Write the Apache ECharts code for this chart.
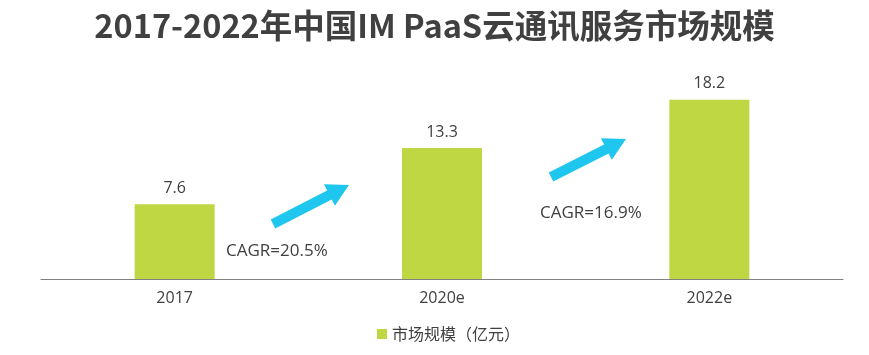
<!DOCTYPE html>
<html><head><meta charset="utf-8">
<script src="https://cdn.jsdelivr.net/npm/echarts@6/dist/echarts.min.js"></script>
<style>html,body{margin:0;padding:0;background:#fff}#c{width:869px;height:355px}</style>
</head><body><div id="c"></div>
<script>
const categories = ['2017', '2020e', '2022e'];
const marketSize = [7.6, 13.3, 18.2];
const cagrLabels = ['CAGR=20.5%', 'CAGR=16.9%'];
const titleText = '2017-2022年中国IM PaaS云通讯服务市场规模';
const seriesName = '市场规模（亿元）';

const chart = echarts.init(document.getElementById('c'));

function arrow(x1, y1, x2, y2, sw, hw, hl) {
  const dx = x2 - x1, dy = y2 - y1, L = Math.hypot(dx, dy);
  const ux = dx / L, uy = dy / L, nx = -uy, ny = ux;
  const bx = x2 - ux * hl, by = y2 - uy * hl;
  return [
    [x1 + nx * sw, y1 + ny * sw],
    [bx + nx * sw, by + ny * sw],
    [bx + nx * hw, by + ny * hw],
    [x2, y2],
    [bx - nx * hw, by - ny * hw],
    [bx - nx * sw, by - ny * sw],
    [x1 - nx * sw, y1 - ny * sw]
  ];
}
const arrowColor = '#1fc6ee';
const txtFont = '"Open Sans","Noto Sans","Noto Sans CJK SC",sans-serif';

chart.setOption({
  animation: false,
  title: {
    text: titleText, left: 'center', top: 4,
    textStyle: { fontSize: 32.5, fontWeight: 'bold', color: '#404040', fontFamily: '"Noto Sans CJK SC","Noto Sans",sans-serif' }
  },
  legend: {
    data: [seriesName], bottom: 8, left: 372, itemWidth: 10, itemHeight: 10, icon: 'rect', itemGap: 6,
    textStyle: { fontSize: 16, color: '#404040', fontFamily: '"Noto Sans CJK SC",sans-serif' }
  },
  grid: { left: 41, right: 26, top: 82, bottom: 76 },
  xAxis: {
    type: 'category', data: categories,
    axisLine: { lineStyle: { color: '#808080', width: 1 } },
    axisTick: { show: false },
    axisLabel: { fontSize: 16, color: '#404040', margin: 11, fontFamily: txtFont }
  },
  yAxis: { type: 'value', min: 0, max: 20, show: false, splitLine: { show: false } },
  series: [{
    name: seriesName, type: 'bar', data: marketSize, barWidth: 80,
    itemStyle: { color: '#bed742' },
    label: { show: true, position: 'top', distance: 8, fontSize: 16, color: '#404040', fontFamily: txtFont }
  }],
  graphic: [
    { type: 'polygon', shape: { points: arrow(273, 224, 349, 185, 5, 12, 22) }, style: { fill: arrowColor } },
    { type: 'polygon', shape: { points: arrow(551, 177, 626, 139, 5, 12, 22) }, style: { fill: arrowColor } },
    { type: 'text', left: 226, top: 243, style: { text: cagrLabels[0], fontSize: 17, fill: '#404040', fontFamily: txtFont } },
    { type: 'text', left: 540, top: 205, style: { text: cagrLabels[1], fontSize: 17, fill: '#404040', fontFamily: txtFont } }
  ]
});
</script></body></html>
